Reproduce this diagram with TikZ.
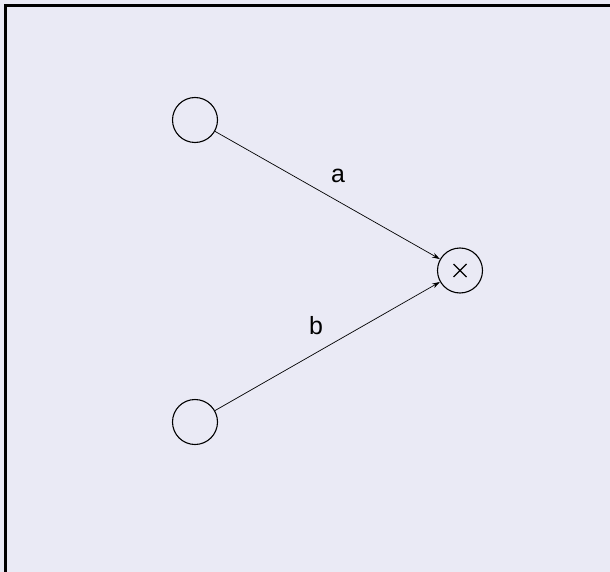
\documentclass[tikz,border=0pt]{standalone}
\usepackage{fontspec}
\setmainfont{Liberation Sans}
\usetikzlibrary{arrows.meta}
\definecolor{bgcol}{HTML}{EAEAF5}
\begin{document}
\begin{tikzpicture}[x=1bp,y=-1bp,
  unit/.style={circle,draw,line width=1.1bp,minimum size=45bp,inner sep=0pt},
  wire/.style={line width=0.7bp,-{Stealth[length=8bp,width=5bp]}},
  wlabel/.style={font=\fontsize{25}{26}\selectfont}]
  % canvas and frame
  \fill[bgcol] (0,0) rectangle (610,572);
  \useasboundingbox (0,0) rectangle (610,572);
  \draw[line width=2.4bp] (5.5,620) -- (5.5,5.5) -- (660,5.5);
  % units
  \node[unit] (x1) at (195,120) {};
  \node[unit] (x2) at (195,422) {};
  \node[unit] (m) at (460,270.5) {};
  % multiplication sign inside the output unit
  \draw[line width=1.1bp] ([shift={(-6.5,-6.5)}]m.center) -- ([shift={(6.5,6.5)}]m.center)
                          ([shift={(-6.5,6.5)}]m.center) -- ([shift={(6.5,-6.5)}]m.center);
  % weighted inputs
  \draw[wire] (x1) -- (m);
  \draw[wire] (x2) -- (m);
  \node[wlabel] (la) at (338,176) {a};
  \node[wlabel] (lb) at (316,326) {b};
\end{tikzpicture}
\end{document}
